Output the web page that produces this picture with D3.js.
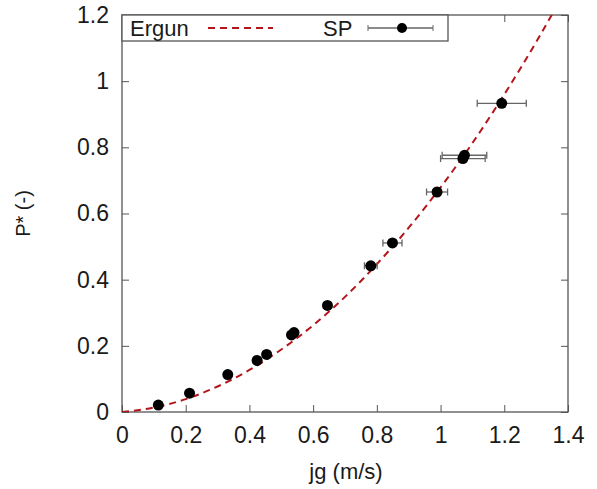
<!DOCTYPE html>
<html>
<head>
<meta charset="utf-8">
<script src="https://cdn.jsdelivr.net/npm/d3@7"></script>
<style>
  body { margin: 0; background: #fff; }
  text { font-family: "Liberation Sans", Arial, sans-serif; fill: #1a1a1a; }
</style>
</head>
<body>
<svg id="chart" width="597" height="489"></svg>
<script>
// SP measurements
const spX = [0.114, 0.212, 0.332, 0.424, 0.454, 0.532, 0.540, 0.645, 0.781, 0.849, 0.989, 1.070, 1.075, 1.192];
const spY = [0.021, 0.057, 0.113, 0.156, 0.174, 0.233, 0.240, 0.322, 0.442, 0.511, 0.665, 0.766, 0.776, 0.933];
const spErr = [0.004, 0.005, 0.006, 0.008, 0.008, 0.010, 0.010, 0.012, 0.020, 0.030, 0.033, 0.070, 0.070, 0.077];

// Ergun curve
const ergunX = [0, 0.1, 0.2, 0.3, 0.4, 0.5, 0.6, 0.7, 0.8, 0.9, 1.0, 1.1, 1.2, 1.3, 1.35];
const ergunY = [0, 0.0135, 0.039, 0.077, 0.127, 0.189, 0.262, 0.348, 0.447, 0.557, 0.679, 0.813, 0.960, 1.118, 1.202];

const xTicks = [0, 0.2, 0.4, 0.6, 0.8, 1, 1.2, 1.4];
const yTicks = [0, 0.2, 0.4, 0.6, 0.8, 1, 1.2];

const margin = { left: 122, top: 15, right: 29, bottom: 77 };
const W = 597, H = 489;
const width = W - margin.left - margin.right;
const height = H - margin.top - margin.bottom;

const xScale = d3.scaleLinear().domain([0, 1.4]).range([0, width]);
const yScale = d3.scaleLinear().domain([0, 1.2]).range([height, 0]);

const svg = d3.select('#chart')
    .append('g')
    .attr('transform', `translate(${margin.left},${margin.top})`);

svg.append('defs').append('clipPath').attr('id', 'clip')
    .append('rect').attr('width', width).attr('height', height);

// Axes with inward ticks
const styleAxis = (g) => {
    g.select('.domain').remove();
    g.selectAll('line').attr('stroke', '#555').attr('stroke-width', 1);
    g.selectAll('text').attr('font-size', '23px').attr('fill', '#1a1a1a');
};

svg.append('g')
    .attr('transform', `translate(0,${height})`)
    .call(d3.axisBottom(xScale).tickValues(xTicks).tickSize(-7).tickPadding(15).tickFormat(d3.format('')))
    .call(styleAxis);
svg.append('g')
    .call(d3.axisTop(xScale).tickValues(xTicks).tickSize(-7).tickFormat(''))
    .call(styleAxis);
svg.append('g')
    .call(d3.axisLeft(yScale).tickValues(yTicks).tickSize(-7).tickPadding(13).tickFormat(d3.format('')))
    .call(styleAxis);
svg.append('g')
    .attr('transform', `translate(${width},0)`)
    .call(d3.axisRight(yScale).tickValues(yTicks).tickSize(-7).tickFormat(''))
    .call(styleAxis);

svg.append('rect')
    .attr('width', width).attr('height', height)
    .attr('fill', 'none').attr('stroke', '#555').attr('stroke-width', 1.3);

// Ergun dashed curve
const ergun = ergunX.map((x, i) => ({ x, y: ergunY[i] }));
const line = d3.line()
    .x((d) => xScale(d.x))
    .y((d) => yScale(d.y))
    .curve(d3.curveMonotoneX);
svg.append('path')
    .attr('d', line(ergun))
    .attr('clip-path', 'url(#clip)')
    .attr('fill', 'none')
    .attr('stroke', '#b3151b')
    .attr('stroke-width', 2)
    .attr('stroke-dasharray', '7,5');

// SP points with horizontal error bars
const sp = spX.map((x, i) => ({ x, y: spY[i], e: spErr[i] }));
const bars = svg.append('g').attr('stroke', '#666').attr('stroke-width', 1.3);
sp.forEach((d) => {
    const y = yScale(d.y);
    const x0 = xScale(d.x - d.e), x1 = xScale(d.x + d.e);
    bars.append('line').attr('x1', x0).attr('x2', x1).attr('y1', y).attr('y2', y);
    bars.append('line').attr('x1', x0).attr('x2', x0).attr('y1', y - 3.5).attr('y2', y + 3.5);
    bars.append('line').attr('x1', x1).attr('x2', x1).attr('y1', y - 3.5).attr('y2', y + 3.5);
});
svg.append('g').selectAll('circle')
    .data(sp)
    .join('circle')
    .attr('cx', (d) => xScale(d.x))
    .attr('cy', (d) => yScale(d.y))
    .attr('r', 5.5)
    .attr('fill', '#000');

// Legend box
const leg = svg.append('g');
leg.append('rect')
    .attr('x', 0).attr('y', 0).attr('width', 326).attr('height', 26)
    .attr('fill', '#fff').attr('stroke', '#555').attr('stroke-width', 1.3);
leg.append('text').attr('x', 8).attr('y', 21).attr('font-size', '22px').text('Ergun');
leg.append('line')
    .attr('x1', 86).attr('x2', 151).attr('y1', 13).attr('y2', 13)
    .attr('stroke', '#b3151b').attr('stroke-width', 2).attr('stroke-dasharray', '7,5');
leg.append('text').attr('x', 201).attr('y', 21).attr('font-size', '22px').text('SP');
leg.append('line').attr('x1', 246).attr('x2', 311).attr('y1', 13).attr('y2', 13)
    .attr('stroke', '#666').attr('stroke-width', 1.3);
leg.append('line').attr('x1', 246).attr('x2', 246).attr('y1', 10).attr('y2', 16).attr('stroke', '#666');
leg.append('line').attr('x1', 311).attr('x2', 311).attr('y1', 10).attr('y2', 16).attr('stroke', '#666');
leg.append('circle').attr('cx', 280).attr('cy', 13).attr('r', 5).attr('fill', '#000');

// Axis titles
svg.append('text')
    .attr('x', width / 2 + 1).attr('y', height + 67)
    .attr('text-anchor', 'middle').attr('font-size', '22px')
    .text('jg (m/s)');
svg.append('text')
    .attr('transform', `translate(${-92},${yScale(0.6)}) rotate(-90)`)
    .attr('text-anchor', 'middle').attr('font-size', '20px')
    .text('P* (-)');
</script>
</body>
</html>
